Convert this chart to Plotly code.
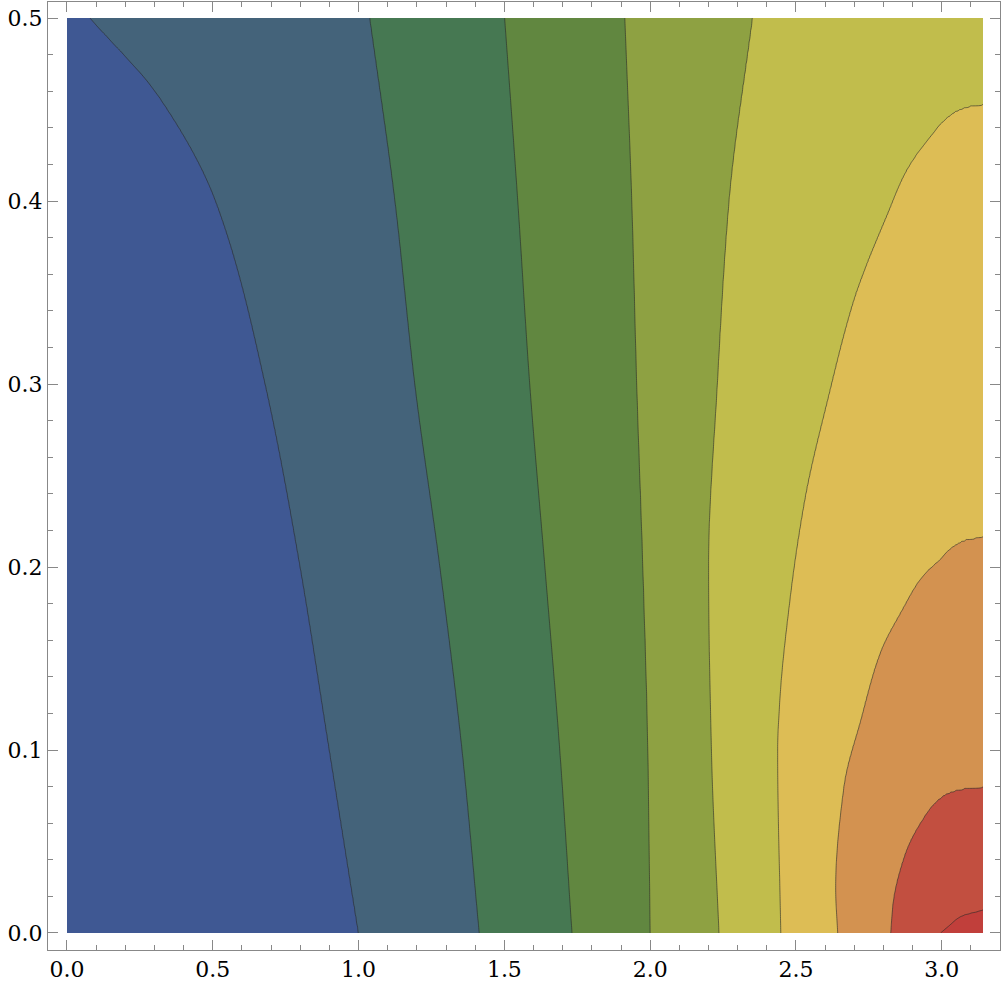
import numpy as np
import plotly.graph_objects as go

levels = [1, 2, 3, 4, 5, 6, 7, 8, 9]
lvl_x = {
    1: [1.00, 0.90, 0.80, 0.68, 0.51, 0.32, 0.08],
    2: [1.414, 1.355, 1.279, 1.193, 1.125, 1.039],
    3: [1.732, 1.690, 1.639, 1.587, 1.546, 1.501],
    4: [2.0, 1.992, 1.975, 1.954, 1.937, 1.913],
    5: [2.236, 2.21, 2.20, 2.23, 2.27, 2.35],
    6: [2.448, 2.437, 2.444, 2.479, 2.530, 2.609, 2.698, 2.736, 2.808, 2.876,
        2.969, 3.037, 3.096, 3.1416],
    7: [2.643, 2.636, 2.664, 2.722, 2.790, 2.862, 2.930, 2.989, 3.082, 3.1416],
    8: [2.825, 2.832, 2.873, 2.931, 3.0, 3.068, 3.1416],
    9: [2.996, 3.024, 3.068, 3.1416],
}
lvl_y = {
    1: [0, 0.1, 0.2, 0.3, 0.4, 0.456, 0.5],
    2: [0, 0.1, 0.2, 0.3, 0.4, 0.5],
    3: [0, 0.1, 0.2, 0.3, 0.4, 0.5],
    4: [0, 0.1, 0.2, 0.3, 0.4, 0.5],
    5: [0, 0.1, 0.2, 0.3, 0.4, 0.5],
    6: [0, 0.100, 0.126, 0.182, 0.237, 0.292, 0.346, 0.363, 0.391, 0.416,
        0.437, 0.448, 0.452, 0.453],
    7: [0, 0.0246, 0.0799, 0.1165, 0.1537, 0.1761, 0.1942, 0.2035, 0.2150, 0.2166],
    8: [0, 0.0153, 0.0427, 0.0613, 0.0744, 0.0788, 0.0799],
    9: [0, 0.0038, 0.0093, 0.0126],
}
edge_y = [0, 0.0126, 0.0799, 0.2166, 0.453, 0.5]
edge_f = [9.87, 9, 8, 7, 6, 5.85]
colors = ["#3F5893", "#44637A", "#467852", "#618740", "#8EA142",
          "#C1BD4C", "#DDBD55", "#D39250", "#C24F40", "#C13F3B"]


def pchip(xq, x, y):
    x = np.asarray(x, float); y = np.asarray(y, float)
    h = np.diff(x); d = np.diff(y) / h
    n = len(x); m = np.zeros(n)
    for i in range(1, n - 1):
        if d[i - 1] * d[i] > 0:
            w1 = 2 * h[i] + h[i - 1]; w2 = h[i] + 2 * h[i - 1]
            m[i] = (w1 + w2) / (w1 / d[i - 1] + w2 / d[i])
    m[0] = d[0]; m[-1] = d[-1]
    xq = np.clip(xq, x[0], x[-1])
    i = np.clip(np.searchsorted(x, xq) - 1, 0, n - 2)
    t = (xq - x[i]) / h[i]
    h00 = 2 * t**3 - 3 * t**2 + 1; h10 = t**3 - 2 * t**2 + t
    h01 = -2 * t**3 + 3 * t**2; h11 = t**3 - t**2
    return h00 * y[i] + h10 * h[i] * m[i] + h01 * y[i + 1] + h11 * h[i] * m[i + 1]


PI = np.pi
xs = np.linspace(0, PI, 600)
ys = np.linspace(0, 0.5, 501)
Z = np.zeros((len(ys), len(xs)))
for j, y in enumerate(ys):
    px = [0.0]; pf = [3.9 * y * y]
    for k in levels:
        yy = lvl_y[k]
        if y <= yy[-1] + 1e-9:
            xk = float(pchip(y, yy, lvl_x[k]))
            if 1e-6 < xk < PI - 1e-4:
                px.append(xk); pf.append(k)
    px.append(PI); pf.append(float(pchip(y, edge_y, edge_f)))
    order = np.argsort(px)
    Z[j] = np.interp(xs, np.array(px)[order], np.array(pf)[order])

cs = []
for i, c in enumerate(colors):
    cs.append([i / 10, c]); cs.append([(i + 1) / 10, c])

fig = go.Figure(go.Contour(
    x=xs, y=ys, z=Z, zmin=0, zmax=10, colorscale=cs, showscale=False,
    contours=dict(start=1, end=9, size=1, coloring="fill"),
    line=dict(color="rgba(40,40,40,0.6)", width=1, smoothing=1), hoverinfo="skip"))

serif = "DejaVu Serif"
tickfont = dict(family=serif, size=22, color="black")
common = dict(showline=True, linecolor="#888", linewidth=1, mirror="ticks",
              ticks="inside", ticklen=10, tickcolor="#888", showgrid=False,
              zeroline=False, tickfont=tickfont, automargin=False)
fig.update_xaxes(range=[-0.065, PI + 0.058], tickvals=[0, 0.5, 1, 1.5, 2, 2.5, 3],
                 ticktext=["0.0", "0.5", "1.0", "1.5", "2.0", "2.5", "3.0"],
                 minor=dict(dtick=0.1, tick0=0, ticks="inside", ticklen=5, tickcolor="#888"),
                 **common)
fig.update_yaxes(range=[-0.0093, 0.5088], tickvals=[0, 0.1, 0.2, 0.3, 0.4, 0.5],
                 ticktext=["0.0", "0.1", "0.2", "0.3", "0.4", "0.5"],
                 minor=dict(dtick=0.02, tick0=0, ticks="inside", ticklen=5, tickcolor="#888"),
                 **common)
fig.update_layout(width=1004, height=1000, margin=dict(l=48, r=4, t=2, b=50),
                  font=dict(family=serif), plot_bgcolor="white", paper_bgcolor="white")
fig.write_html("out.html", config={"displayModeBar": False},
               post_script="document.body.style.margin='0';")
